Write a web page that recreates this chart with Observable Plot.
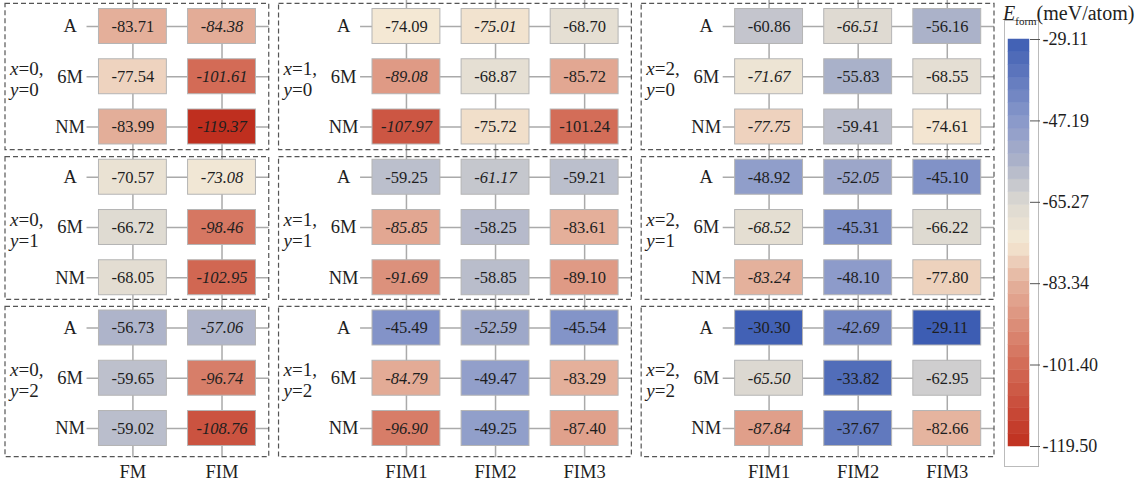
<!DOCTYPE html>
<html><head><meta charset="utf-8">
<script src="https://cdn.jsdelivr.net/npm/d3@7"></script>
<script src="https://cdn.jsdelivr.net/npm/@observablehq/plot@0.6"></script>
<style>
body{margin:0;background:#fff;}
#wrap{position:relative;width:1142px;height:488px;font-family:"Liberation Serif","Times New Roman",Times,"DejaVu Serif",serif;overflow:hidden;}
#main{position:absolute;left:0;top:0;}
#cbar{position:absolute;left:1000px;top:0;}
#cbtitle{position:absolute;left:1003px;top:0px;font-size:20px;color:#222;white-space:nowrap;line-height:26px;}
#cbtitle sub{font-size:11px;}
svg text{font-family:"Liberation Serif","Times New Roman",Times,"DejaVu Serif",serif !important;}
</style></head><body>
<div id="wrap"><div id="main"></div><div id="cbar"></div><div id="cbtitle"><i>E</i><sub>form</sub>(meV/atom)</div></div>
<script>
// ---------------- data ----------------
const xIndex = [0, 1, 2];
const yIndex = [0, 1, 2];
const rowLabels = ["A", "6M", "NM"];
const colsX0 = ["FM", "FIM"];
const colsX1 = ["FIM1", "FIM2", "FIM3"];
const colsX2 = ["FIM1", "FIM2", "FIM3"];

// formation energies (meV/atom), rows A, 6M, NM
const E_x0_y0 = [[-83.71, -84.38], [-77.54, -101.61], [-83.99, -119.37]];
const E_x0_y1 = [[-70.57, -73.08], [-66.72, -98.46], [-68.05, -102.95]];
const E_x0_y2 = [[-56.73, -57.06], [-59.65, -96.74], [-59.02, -108.76]];
const E_x1_y0 = [[-74.09, -75.01, -68.70], [-89.08, -68.87, -85.72], [-107.97, -75.72, -101.24]];
const E_x1_y1 = [[-59.25, -61.17, -59.21], [-85.85, -58.25, -83.61], [-91.69, -58.85, -89.10]];
const E_x1_y2 = [[-45.49, -52.59, -45.54], [-84.79, -49.47, -83.29], [-96.90, -49.25, -87.40]];
const E_x2_y0 = [[-60.86, -66.51, -56.16], [-71.67, -55.83, -68.55], [-77.75, -59.41, -74.61]];
const E_x2_y1 = [[-48.92, -52.05, -45.10], [-68.52, -45.31, -66.22], [-83.24, -48.10, -77.80]];
const E_x2_y2 = [[-30.30, -42.69, -29.11], [-65.50, -33.82, -62.95], [-87.84, -37.67, -82.66]];

// values printed in italics
const italic_x0 = [[0, 1], [0, 1], [0, 1]];
const italic_x1 = [[0, 1, 0], [1, 0, 0], [1, 0, 0]];
const italic_x2 = [[0, 1, 0], [1, 0, 0], [1, 0, 0]];

const cbTicks = [-29.11, -47.19, -65.27, -83.34, -101.40, -119.50];

// ---------------- build tables ----------------
const colsByX = [colsX0, colsX1, colsX2];
const E = [[E_x0_y0, E_x0_y1, E_x0_y2], [E_x1_y0, E_x1_y1, E_x1_y2], [E_x2_y0, E_x2_y1, E_x2_y2]];
const italicByX = [italic_x0, italic_x1, italic_x2];

const PAD_L = 1.43, PAD_R = 0.53, GAP = 0.11;
const BOX_TOP = [0.45, 0.40, 0.42], BOX_BOTTOM = [0.46, 0.44, 0.57];
const panels = [];
let s = 0;
xIndex.forEach((xi, i) => {
  const n = colsByX[i].length;
  const w = PAD_L + (n - 1) + PAD_R;
  panels.push({xi, start: s, w, n});
  s += w + GAP;
});
const total = s - GAP;

const cells = [], colLines = [], rowLines = [], boxes = [], rowTexts = [], sideTexts = [], colTexts = [];
xIndex.forEach((xi, i) => {
  const p = panels[i];
  colsByX[i].forEach((name, c) => {
    const cx = p.start + PAD_L + c;
    colLines.push({cx});
    colTexts.push({cx, name});
  });
  yIndex.forEach((yi, j) => {
    boxes.push({x1: p.start, x2: p.start + p.w, y1: j * 3 - BOX_TOP[j], y2: j * 3 + 2 + BOX_BOTTOM[j]});
    sideTexts.push({x: p.start, k: j * 3 + 1, xs: "=" + xi + ",", ys: "=" + yi});
    rowLabels.forEach((rl, r) => {
      const k = j * 3 + r;
      rowLines.push({x1: p.start + PAD_L - 0.515, x2: p.start + p.w, k});
      rowTexts.push({x: p.start + PAD_L - 0.705, k, rl});
      colsByX[i].forEach((name, c) => {
        cells.push({cx: p.start + PAD_L + c, k, v: E[i][j][r][c], it: italicByX[i][r][c] === 1});
      });
    });
  });
});

const colorOpts = {
  type: "linear",
  domain: [-119.5, -101.4, -83.34, -74, -65.27, -56, -47.19, -29.11],
  range: ["#bf2f1f", "#d36c57", "#e4b09b", "#f4e9d5", "#dbd8d1", "#aab1c9", "#8a99ca", "#3d5db3"]
};

const HW = 0.381, HH = 0.348;
const font = "'Liberation Serif', 'Times New Roman', Times, 'DejaVu Serif', serif";

const main = Plot.plot({
  width: 1000, height: 488,
  marginLeft: 0, marginRight: 0, marginTop: 0, marginBottom: 0,
  x: {domain: [0, total], range: [5, 994], axis: null},
  y: {domain: [0, 8], range: [26, 428], axis: null},
  color: colorOpts,
  style: {fontFamily: font, background: "white", color: "#222"},
  marks: [
    Plot.ruleX(colLines, {x: "cx", y1: () => -0.52, y2: () => 8.58, stroke: "#aaaaaa", strokeWidth: 1.5}),
    Plot.ruleY(rowLines, {y: "k", x1: "x1", x2: "x2", stroke: "#aaaaaa", strokeWidth: 1.5}),
    Plot.rect(boxes, {x1: "x1", x2: "x2", y1: "y1", y2: "y2", fill: "none", stroke: "#555", strokeWidth: 1.2, strokeDasharray: "5,3"}),
    Plot.rect(cells, {x1: d => d.cx - HW, x2: d => d.cx + HW, y1: d => d.k - HH, y2: d => d.k + HH, fill: "v", stroke: "#b5b5b5", strokeWidth: 1}),
    Plot.text(cells, {filter: d => !d.it, x: "cx", y: "k", text: d => d.v.toFixed(2), fontSize: 16.5, fill: "#1e1e1e"}),
    Plot.text(cells, {filter: d => d.it, x: "cx", y: "k", text: d => d.v.toFixed(2), fontSize: 16.5, fontStyle: "italic", fill: "#1e1e1e"}),
    Plot.text(rowTexts, {x: "x", y: "k", text: "rl", fontSize: 18.5, fill: "#1e1e1e"}),
    Plot.text(sideTexts, {x: "x", y: "k", text: () => "x", fontStyle: "italic", textAnchor: "start", dx: 4.5, dy: -8, fontSize: 19, fill: "#1e1e1e"}),
    Plot.text(sideTexts, {x: "x", y: "k", text: "xs", textAnchor: "start", dx: 13, dy: -8, fontSize: 19, fill: "#1e1e1e"}),
    Plot.text(sideTexts, {x: "x", y: "k", text: () => "y", fontStyle: "italic", textAnchor: "start", dx: 4.5, dy: 13, fontSize: 19, fill: "#1e1e1e"}),
    Plot.text(sideTexts, {x: "x", y: "k", text: "ys", textAnchor: "start", dx: 13, dy: 13, fontSize: 19, fill: "#1e1e1e"}),
    Plot.text(colTexts, {x: "cx", y: () => 8.876, text: "name", fontSize: 18.5, fill: "#1e1e1e"})
  ]
});
document.getElementById("main").appendChild(main);

// ---------------- colour bar ----------------
const lo = d3.min(cbTicks), hi = d3.max(cbTicks);
const nb = 32;
const bands = d3.range(nb).map(i => ({y1: lo + (hi - lo) * i / nb, y2: lo + (hi - lo) * (i + 1) / nb}));
const cbar = Plot.plot({
  width: 142, height: 488,
  marginLeft: 8, marginRight: 113, marginTop: 39, marginBottom: 42,
  x: {domain: [0, 1], axis: null},
  y: {domain: [lo, hi], axis: null},
  color: colorOpts,
  style: {fontFamily: font, background: "transparent", color: "#222"},
  marks: [
    Plot.frame({stroke: "#bbbbbb", strokeWidth: 1, insetLeft: -4, insetRight: -9, insetTop: -19, insetBottom: -20}),
    Plot.rect(bands, {x1: () => 0, x2: () => 1, y1: "y1", y2: "y2", fill: d => (d.y1 + d.y2) / 2, stroke: d => (d.y1 + d.y2) / 2, strokeWidth: 0.5}),
    Plot.axisY({anchor: "right", ticks: cbTicks, tickSize: 10, tickPadding: 3, tickFormat: d => d.toFixed(2), fontSize: 18, label: null, stroke: "#555", fill: "#1e1e1e"})
  ]
});
document.getElementById("cbar").appendChild(cbar);
</script>
</body></html>
